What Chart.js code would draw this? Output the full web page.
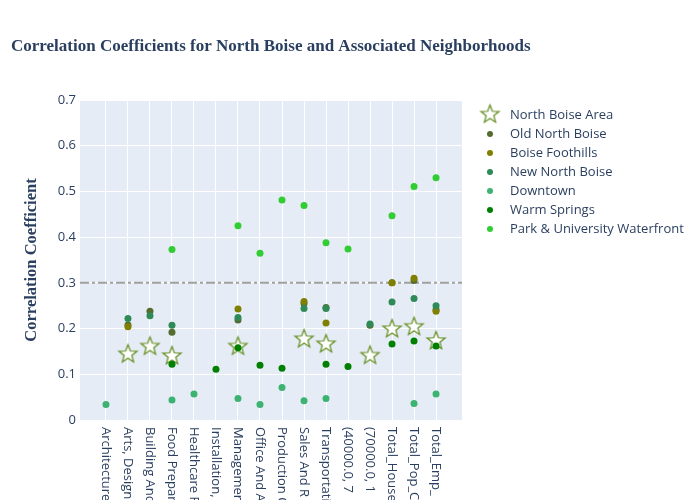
<!DOCTYPE html>
<html><head><meta charset="utf-8">
<script src="https://cdn.jsdelivr.net/npm/chart.js@4.4.0/dist/chart.umd.min.js"></script>
<style>html,body{margin:0;padding:0;background:#fff}#wrap{width:700px;height:500px;position:relative}</style>
</head><body><div id="wrap"><canvas id="c" width="700" height="500"></canvas></div>
<script>
// ---- data ----
const chartTitle = 'Correlation Coefficients for North Boise and Associated Neighborhoods';
const yAxisTitle = 'Correlation Coefficient';
const categories = ["Architecture", "Arts, Design", "Building And", "Food Prepar", "Healthcare F", "Installation,", "Managemen", "Office And A", "Production O", "Sales And R", "Transportati", "(40000.0, 7", "(70000.0, 1", "Total_House", "Total_Pop_C", "Total_Emp_"];
const northBoiseArea = [null, 0.145, 0.162, 0.141, null, null, 0.162, null, null, 0.178, 0.167, null, 0.142, 0.200, 0.205, 0.174];
const oldNorthBoise   = [null, 0.208, 0.238, 0.192, null, null, 0.219, null, null, 0.255, 0.246, null, 0.207, 0.300, 0.305, 0.241];
const boiseFoothills  = [null, 0.204, null, null, null, null, 0.243, null, null, 0.259, 0.212, null, null, 0.300, 0.310, 0.238];
const newNorthBoise   = [null, 0.222, 0.228, 0.207, null, null, 0.224, null, null, 0.244, 0.244, null, 0.210, 0.258, 0.266, 0.250];
const downtown        = [0.034, null, null, 0.044, 0.057, null, 0.047, 0.034, 0.071, 0.042, 0.047, null, null, null, 0.036, 0.057];
const warmSprings     = [null, null, null, 0.122, null, 0.111, 0.158, 0.120, 0.113, null, 0.122, 0.117, null, 0.166, 0.173, 0.162];
const parkUniversity  = [null, null, null, 0.373, null, null, 0.425, 0.365, 0.481, 0.469, 0.388, 0.374, null, 0.447, 0.511, 0.530];
const seriesNames = ["North Boise Area", "Old North Boise", "Boise Foothills", "New North Boise", "Downtown", "Warm Springs", "Park & University Waterfront"];
const yTickValues = [0, 0.1, 0.2, 0.3, 0.4, 0.5, 0.6, 0.7];
const threshold = 0.3;

// ---- styling ----
const seriesColors = ["#5f8a1a", "#556b2f", "#808000", "#2e8b57", "#3cb371", "#008000", "#32cd32"];
const TEXT = "#2a3f5f";
const X_MIN = -1.18, X_MAX = 16.18;

function starImage(outer, inner, fill, stroke) {
  const s = Math.ceil(outer * 2 + 4);
  const c = document.createElement('canvas'); c.width = s; c.height = s;
  const g = c.getContext('2d'); const cx = s / 2, cy = s / 2 + 0.5;
  g.beginPath();
  for (let k = 0; k < 10; k++) {
    const r = k % 2 ? inner : outer;
    const a = -Math.PI / 2 + k * Math.PI / 5;
    const px = cx + r * Math.cos(a), py = cy + r * Math.sin(a);
    if (k) g.lineTo(px, py); else g.moveTo(px, py);
  }
  g.closePath(); g.fillStyle = fill; g.fill();
  g.lineWidth = 1.2; g.strokeStyle = stroke; g.stroke();
  return c;
}
const star = starImage(9.5, 4, "#ffffff", seriesColors[0]);

const seriesData = [northBoiseArea, oldNorthBoise, boiseFoothills, newNorthBoise, downtown, warmSprings, parkUniversity];
const toPts = arr => arr.map((v, i) => v === null ? null : { x: i, y: v }).filter(p => p);

const datasets = seriesData.map((arr, i) => ({
  type: 'scatter',
  label: seriesNames[i],
  data: toPts(arr),
  order: 20 - i,
  pointStyle: i === 0 ? star : 'circle',
  pointRadius: i === 0 ? 9 : 3.5,
  pointHoverRadius: i === 0 ? 9 : 3.5,
  backgroundColor: seriesColors[i],
  borderColor: seriesColors[i],
  borderWidth: 0
}));
datasets.push({
  type: 'line', label: 'threshold',
  data: [{ x: X_MIN, y: threshold }, { x: X_MAX, y: threshold }],
  borderColor: '#a0a0a0', borderWidth: 2, borderDash: [9, 3, 3, 3],
  pointRadius: 0, order: 100, fill: false
});

const bgPlugin = {
  id: 'bg',
  beforeDraw(chart) {
    const { ctx, chartArea: a } = chart;
    ctx.save(); ctx.fillStyle = '#E5ECF6';
    ctx.fillRect(a.left, a.top, a.right - a.left, a.bottom - a.top);
    ctx.restore();
  }
};
const labelPlugin = {
  id: 'xlabels',
  afterDraw(chart) {
    const { ctx, chartArea: a } = chart;
    const xs = chart.scales.x;
    ctx.save();
    // title
    ctx.font = "bold 17px 'Liberation Serif'"; ctx.fillStyle = TEXT;
    ctx.textAlign = 'left'; ctx.textBaseline = 'alphabetic';
    ctx.fillText(chartTitle, 11, 51);
    // x labels
    ctx.font = "13px 'Open Sans'"; ctx.fillStyle = TEXT;
    ctx.textAlign = 'left'; ctx.textBaseline = 'middle';
    categories.forEach((lab, i) => {
      ctx.save();
      ctx.translate(xs.getPixelForValue(i), a.bottom + 7);
      ctx.rotate(Math.PI / 2);
      ctx.fillText(lab, 0, 0);
      ctx.restore();
    });
    // legend
    seriesNames.forEach((name, i) => {
      const y = 115 + i * 19;
      if (i === 0) {
        ctx.drawImage(star, 490 - star.width / 2, y - 1 - star.height / 2);
      } else {
        ctx.beginPath(); ctx.fillStyle = seriesColors[i];
        ctx.arc(490, y, 3, 0, Math.PI * 2); ctx.fill();
      }
      ctx.fillStyle = TEXT; ctx.textAlign = 'left'; ctx.textBaseline = 'middle';
      ctx.fillText(name, 510, y);
    });
    ctx.restore();
  }
};

new Chart(document.getElementById('c'), {
  data: { datasets },
  options: {
    responsive: false, animation: false,
    layout: { padding: { left: 10, right: 238, top: 100, bottom: 0 } },
    plugins: {
      legend: { display: false },
      tooltip: { enabled: false },
      title: { display: false }
    },
    scales: {
      x: {
        type: 'linear', min: X_MIN, max: X_MAX,
        afterBuildTicks: s => { s.ticks = categories.map((_, i) => ({ value: i })); },
        afterFit: s => { s.height = 80; },
        ticks: { display: false },
        grid: { color: '#ffffff', lineWidth: 1, drawTicks: false },
        border: { display: false }
      },
      y: {
        min: 0, max: 0.7,
        afterBuildTicks: s => { s.ticks = yTickValues.map(v => ({ value: v })); },
        afterFit: s => { s.width = 70; },
        ticks: {
          color: TEXT, padding: 4,
          font: { family: "'Open Sans'", size: 13 },
          callback: v => String(Number(Number(v).toFixed(1)))
        },
        grid: { color: '#ffffff', lineWidth: 1, drawTicks: false },
        border: { display: false },
        title: {
          display: true, text: yAxisTitle, color: TEXT,
          font: { family: "'Liberation Serif', 'Times New Roman', serif", size: 16.5, weight: 'bold' },
          padding: { top: 12, bottom: 0 }
        }
      }
    }
  },
  plugins: [bgPlugin, labelPlugin]
});
</script>
</body></html>
